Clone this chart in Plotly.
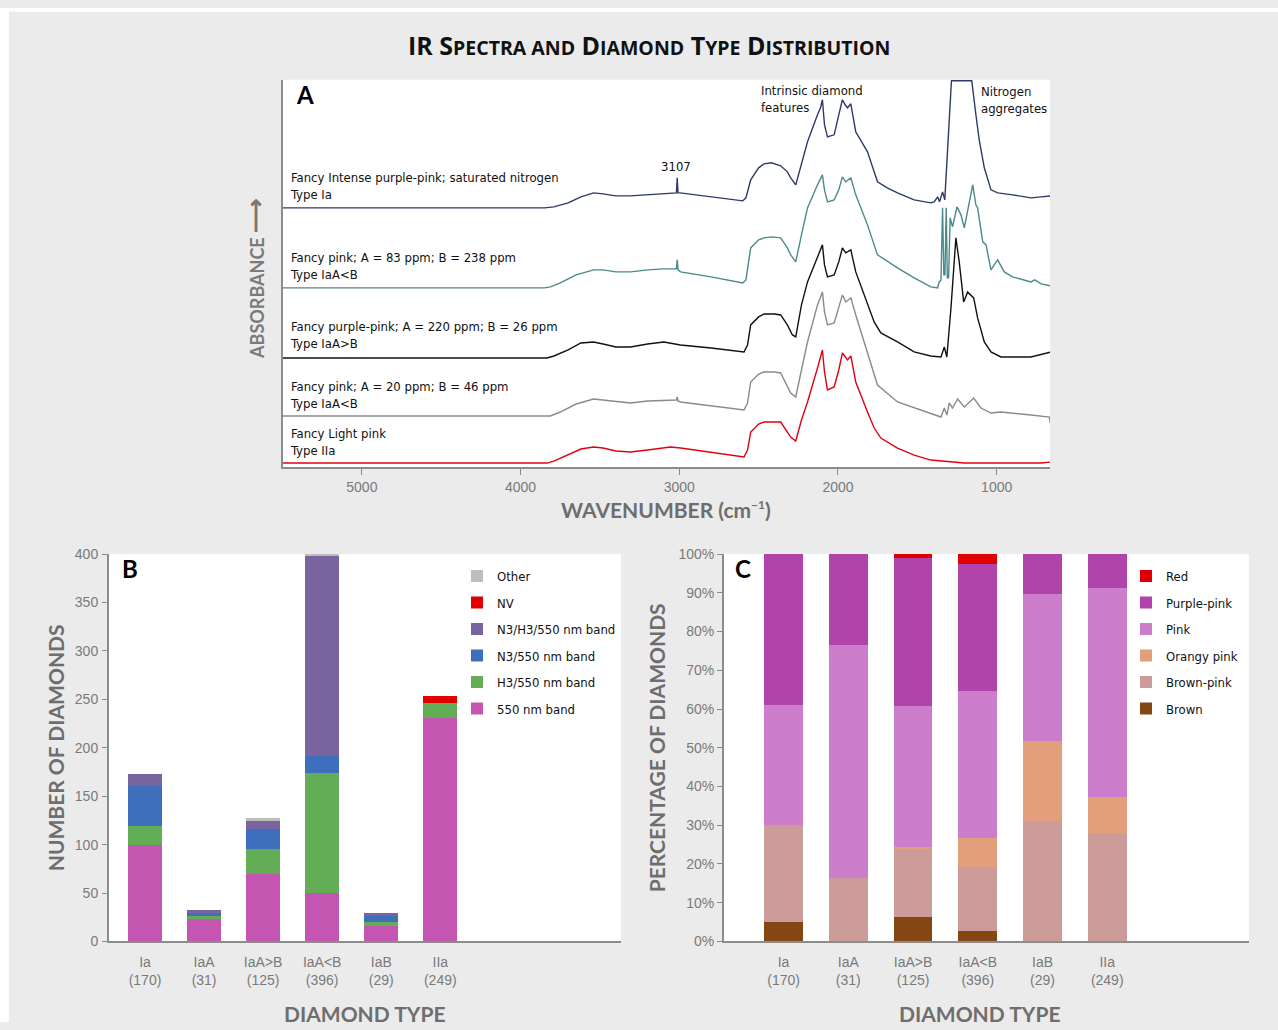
import plotly.graph_objects as go

W, H = 1278, 1030
# the page is captured with a small vertical offset/scale; place items in reference pixels
V_OFF, V_SCALE = 8.3, 0.9837
def X(px): return px / W
def Y(py): return 1 - ((py - V_OFF) / V_SCALE) / H

# ---------------- Panel A: IR spectra (absorbance, arbitrary offset units) ----------------
wn_ia = [5500, 3850, 3790, 3700, 3620, 3540, 3480, 3400, 3310, 3200, 3100, 3030, 3018, 3013, 3008, 2995, 2900, 2800, 2700, 2600,
         2580, 2550, 2500, 2466, 2420, 2361, 2319, 2298, 2266, 2230, 2192, 2129, 2110, 2098, 2085, 2066, 2045, 2024, 1995, 1972,
         1955, 1940, 1919, 1888, 1814, 1751, 1690, 1625, 1520, 1415, 1394, 1372, 1360, 1341, 1327, 1320, 1300, 1285, 1157, 1140,
         1131, 1110, 1078, 1036, 994, 900, 784, 720, 658]
ab_ia = [259, 259, 260, 264, 270, 274, 273, 271, 271, 272, 273, 274, 274, 289, 274, 274, 272, 270, 268, 266,
         269, 287, 299, 303, 304, 301, 295, 289, 282, 302, 325, 352, 359, 367, 342, 330, 331, 332, 352, 367,
         362, 359, 363, 335, 315, 285, 279, 274, 267, 264, 265, 270, 265, 275, 267, 287, 342, 386, 386, 367,
         352, 327, 299, 277, 274, 272, 269, 270, 271]

wn_iaab1 = [5500, 3850, 3812, 3750, 3650, 3540, 3480, 3400, 3307, 3200, 3100, 3030, 3018, 3013, 3008, 2992, 2800, 2600, 2580, 2550,
            2500, 2466, 2420, 2361, 2319, 2298, 2266, 2230, 2192, 2129, 2098, 2085, 2066, 2024, 1995, 1972, 1951, 1919, 1888, 1814,
            1751, 1625, 1520, 1415, 1372, 1362, 1351, 1341, 1333, 1326, 1318, 1311, 1303, 1293, 1278, 1250, 1225, 1204, 1183, 1151,
            1131, 1120, 1088, 1067, 1036, 994, 952, 900, 784, 760, 720, 658]
ab_iaab1 = [179, 179, 180, 184, 192, 197, 197, 195, 195, 197, 198, 198, 198, 207, 197, 195, 190, 184, 187, 219,
            227, 229, 230, 229, 219, 212, 205, 232, 259, 282, 292, 277, 265, 267, 277, 290, 285, 289, 272, 242,
            212, 199, 189, 180, 179, 185, 187, 259, 192, 192, 259, 189, 189, 249, 240, 260, 252, 239, 257, 282,
            262, 259, 225, 222, 197, 207, 195, 190, 185, 187, 183, 181]

wn_iaagb = [5500, 3833, 3790, 3700, 3620, 3540, 3480, 3400, 3307, 3200, 3097, 2992, 2800, 2592, 2570, 2550, 2500, 2466, 2400, 2361,
            2319, 2287, 2266, 2230, 2192, 2129, 2098, 2085, 2066, 2024, 1995, 1972, 1951, 1919, 1888, 1772, 1730, 1625, 1520, 1415,
            1351, 1330, 1314, 1288, 1257, 1236, 1208, 1183, 1145, 1120, 1078, 1036, 973, 784, 658]
ab_iaagb = [109, 109, 111, 117, 124, 125, 123, 120, 120, 123, 125, 122, 119, 115, 122, 142, 150, 153, 153, 152,
            142, 132, 130, 162, 185, 209, 222, 202, 190, 192, 205, 219, 214, 217, 195, 145, 134, 125, 115, 111,
            110, 120, 110, 159, 229, 205, 165, 175, 169, 149, 125, 115, 110, 110, 115]

wn_iaab2 = [5500, 3812, 3750, 3650, 3540, 3480, 3400, 3307, 3200, 3055, 3018, 3013, 3008, 2992, 2800, 2592, 2570, 2550, 2500, 2466,
            2400, 2361, 2298, 2266, 2230, 2192, 2129, 2098, 2085, 2066, 2024, 1995, 1972, 1951, 1919, 1888, 1751, 1625, 1520, 1415,
            1351, 1330, 1314, 1299, 1278, 1246, 1204, 1145, 1099, 1036, 973, 784, 668, 662, 658]
ab_iaab2 = [51, 51, 55, 63, 68, 67, 65, 64, 66, 67, 67, 70, 66, 65, 61, 57, 64, 85, 93, 95,
            95, 94, 74, 70, 97, 125, 162, 175, 155, 142, 144, 159, 172, 165, 169, 152, 82, 65, 59, 53,
            50, 59, 52, 64, 59, 68, 60, 69, 59, 54, 55, 52, 50, 44, 44]

wn_iia = [5500, 3833, 3790, 3700, 3620, 3540, 3480, 3400, 3307, 3200, 3055, 2992, 2800, 2592, 2570, 2550, 2500, 2466, 2400, 2361,
          2298, 2266, 2230, 2192, 2129, 2098, 2085, 2066, 2024, 1995, 1972, 1940, 1919, 1888, 1814, 1772, 1730, 1625, 1520, 1415,
          1204, 900, 720, 658]
ab_iia = [4, 4, 6, 12, 18, 20, 19, 16, 15, 17, 20, 19, 15, 10, 17, 35, 43, 45, 45, 45,
          30, 26, 47, 65, 99, 117, 95, 77, 80, 97, 114, 107, 111, 85, 55, 39, 29, 19, 12, 7,
          4, 4, 4, 5]

spectra = [
    (wn_ia, ab_ia, "#2c3a6a", "Fancy Intense purple-pink; saturated nitrogen<br>Type Ia"),
    (wn_iaab1, ab_iaab1, "#4b8a89", "Fancy pink; A = 83 ppm; B = 238 ppm<br>Type IaA<B"),
    (wn_iaagb, ab_iaagb, "#111111", "Fancy purple-pink; A = 220 ppm; B = 26 ppm<br>Type IaA>B"),
    (wn_iaab2, ab_iaab2, "#8a8a8a", "Fancy pink; A = 20 ppm; B = 46 ppm<br>Type IaA<B"),
    (wn_iia, ab_iia, "#e00010", "Fancy Light pink<br>Type IIa"),
]
spec_label_y = [186.5, 266.5, 335.5, 394.5, 441.5]

wn_ticks = [5000, 4000, 3000, 2000, 1000]

# ---------------- Panel B: number of diamonds ----------------
types = ["Ia", "IaA", "IaA>B", "IaA<B", "IaB", "IIa"]
type_counts = ["(170)", "(31)", "(125)", "(396)", "(29)", "(249)"]
b_550 = [100, 24, 70, 50, 16, 231]
b_h3 = [19, 2, 25, 124, 4, 15]
b_n3 = [42, 3, 21, 18, 6, 0]
b_n3h3 = [12, 3, 9, 206, 3, 0]
b_nv = [0, 0, 0, 0, 0, 7]
b_other = [0, 0, 2, 2, 0, 0]
b_series = [("550 nm band", b_550, "#c456b2"), ("H3/550 nm band", b_h3, "#62ad55"),
            ("N3/550 nm band", b_n3, "#3d6fbd"), ("N3/H3/550 nm band", b_n3h3, "#7a64a0"),
            ("NV", b_nv, "#e00000"), ("Other", b_other, "#bdbdbd")]

# ---------------- Panel C: percentage of diamonds ----------------
c_brown = [5.0, 0, 6.4, 2.8, 0, 0]
c_brownpink = [25.0, 16.5, 17.5, 16.3, 31.0, 28.1]
c_orangy = [0, 0, 0.6, 7.7, 20.7, 9.3]
c_pink = [31.0, 60.0, 36.4, 37.8, 38.0, 53.8]
c_purple = [39.0, 23.5, 38.1, 32.8, 10.3, 8.8]
c_red = [0, 0, 1.0, 2.6, 0, 0]
c_series = [("Brown", c_brown, "#844714"), ("Brown-pink", c_brownpink, "#cc9c9a"),
            ("Orangy pink", c_orangy, "#e39f7c"), ("Pink", c_pink, "#cc7ecd"),
            ("Purple-pink", c_purple, "#b044ab"), ("Red", c_red, "#e00000")]

fig = go.Figure()

for wn, ab, col, lab in spectra:
    fig.add_trace(go.Scatter(x=wn, y=ab, mode="lines", line=dict(color=col, width=1.4),
                             showlegend=False, xaxis="x", yaxis="y", hoverinfo="skip"))

n = len(b_series)
for i, (name, vals, col) in enumerate(b_series):
    fig.add_trace(go.Bar(x=types, y=vals, name=name, marker=dict(color=col, line=dict(width=0)),
                         width=0.58, xaxis="x2", yaxis="y2", legend="legend", legendgroup="b%d" % i,
                         legendrank=n - i))

n = len(c_series)
for i, (name, vals, col) in enumerate(c_series):
    fig.add_trace(go.Bar(x=types, y=vals, name=name, marker=dict(color=col, line=dict(width=0)),
                         width=0.6, xaxis="x3", yaxis="y3", legend="legend2", legendgroup="c%d" % i,
                         legendrank=n - i))

tick_font = dict(family="Liberation Sans, Arial, sans-serif", size=14, color="#7a7a7a")
axis_gray = "#8c8c8c"
cat_text = ["%s<br>%s" % (t, c) for t, c in zip(types, type_counts)]
narrow_family = "DejaVu Sans Condensed, Liberation Sans Narrow, sans-serif"
legend_font = dict(family=narrow_family, size=13, color="#111")

fig.update_layout(
    width=W, height=H, margin=dict(l=0, r=0, t=0, b=0),
    paper_bgcolor="#ebebeb", plot_bgcolor="white", barmode="stack",
    xaxis=dict(domain=[X(283), X(1050)], range=[5497, 664], tickvals=wn_ticks, ticks="outside", ticklen=6,
               tickcolor=axis_gray, showline=True, linecolor=axis_gray, linewidth=1.5, showgrid=False,
               zeroline=False, tickfont=tick_font, anchor="y"),
    yaxis=dict(domain=[Y(467), Y(80)], range=[0, 387], showticklabels=False, ticks="", showline=True,
               linecolor=axis_gray, linewidth=1.5, showgrid=False, zeroline=False, anchor="x"),
    xaxis2=dict(domain=[X(109), X(621)], range=[-0.61, 8.06], type="category", tickvals=types, ticktext=cat_text,
                ticks="", showline=True, linecolor=axis_gray, linewidth=2, showgrid=False, zeroline=False,
                tickfont=tick_font, ticklabelstandoff=7, anchor="y2"),
    yaxis2=dict(domain=[Y(941), Y(554)], range=[0, 400], dtick=50, ticks="outside", ticklen=5, tickcolor=axis_gray,
                showline=True, linecolor=axis_gray, linewidth=2, showgrid=False, zeroline=False,
                tickfont=tick_font, ticklabelstandoff=1, anchor="x2"),
    xaxis3=dict(domain=[X(724), X(1249)], range=[-0.92, 7.19], type="category", tickvals=types, ticktext=cat_text,
                ticks="", showline=True, linecolor=axis_gray, linewidth=2, showgrid=False, zeroline=False,
                tickfont=tick_font, ticklabelstandoff=7, anchor="y3"),
    yaxis3=dict(domain=[Y(941), Y(554)], range=[0, 100], dtick=10, ticksuffix="%", ticks="outside", ticklen=5,
                tickcolor=axis_gray, showline=True, linecolor=axis_gray, linewidth=2, showgrid=False,
                zeroline=False, tickfont=tick_font, anchor="x3"),
    legend=dict(x=X(457), y=Y(561), xanchor="left", yanchor="top", traceorder="grouped",
                tracegroupgap=6.6, bgcolor="rgba(0,0,0,0)", font=legend_font),
    legend2=dict(x=X(1126), y=Y(561), xanchor="left", yanchor="top", traceorder="grouped",
                 tracegroupgap=6.6, bgcolor="rgba(0,0,0,0)", font=legend_font),
)

narrow = dict(family=narrow_family, size=13, color="#111")
title_font = dict(family="Open Sans, Lato, sans-serif", size=25, color="#111")
gray_title = dict(family="Lato, sans-serif", size=21, color="#6e6e6e")
letter_font = dict(family="Lato, sans-serif", size=24, color="#000")

ann = []
def add(text, px, py, font, xanchor="center", yanchor="middle", angle=0, align="left"):
    ann.append(dict(text=text, x=X(px), y=Y(py), xref="paper", yref="paper", showarrow=False,
                    xanchor=xanchor, yanchor=yanchor, textangle=angle, font=font, align=align))

sm = "<span style='font-size:19.5px'>%s</span>"
add("<b>IR S" + sm % "PECTRA AND" + " D" + sm % "IAMOND" + " T" + sm % "YPE" + " D" + sm % "ISTRIBUTION" + "</b>",
    649, 45, title_font)
add("<b>A</b>", 294, 95, letter_font, xanchor="left")
add("<b>B</b>", 120, 568, letter_font, xanchor="left")
add("<b>C</b>", 733, 568, letter_font, xanchor="left")
for (wn, ab, col, lab), ly in zip(spectra, spec_label_y):
    add(lab, 288, ly, narrow, xanchor="left")
add("3107", 676, 167, narrow)
add("Intrinsic diamond<br>features", 759, 99, narrow, xanchor="left")
add("Nitrogen<br>aggregates", 979, 100, narrow, xanchor="left")
add("<b>ABSORBANCE <span style='font-size:24px'>⟶</span></b>", 255, 279,
    dict(family="Lato, sans-serif", size=18, color="#7a7a7a"), angle=-90)
add("<b>WAVENUMBER (cm<sup><span style='font-size:12px'>−1</span></sup>)</b>", 666, 509, gray_title)
add("<b>NUMBER OF DIAMONDS</b>", 55, 748, gray_title, angle=-90)
add("<b>PERCENTAGE OF DIAMONDS</b>", 656, 748, gray_title, angle=-90)
add("<b>DIAMOND TYPE</b>", 365, 1013, gray_title)
add("<b>DIAMOND TYPE</b>", 980, 1013, gray_title)
fig.update_layout(annotations=ann)

fig.update_layout(shapes=[
    dict(type="rect", xref="paper", yref="paper", x0=0, x1=X(9), y0=0, y1=1, fillcolor="white", line=dict(width=0)),
    dict(type="rect", xref="paper", yref="paper", x0=0, x1=1, y0=Y(12), y1=1, fillcolor="white", line=dict(width=0)),
])

fig.write_html("out.html", config={"displayModeBar": False},
               post_script="document.body.style.margin='0px';document.body.style.overflow='hidden';")
